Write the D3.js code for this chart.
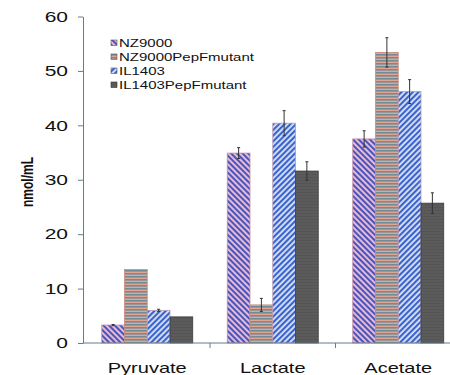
<!DOCTYPE html>
<html>
<head>
<meta charset="utf-8">
<script src="https://cdn.jsdelivr.net/npm/d3@7"></script>
<style>
  html, body { margin: 0; padding: 0; background: #fff; }
  text { font-family: "Liberation Sans", Arial, sans-serif; fill: #111; }
</style>
</head>
<body>
<svg id="chart" width="450" height="375"></svg>
<script>
// Metabolite concentrations (nmol/mL) per strain
const categories = ["Pyruvate", "Lactate", "Acetate"];
const seriesNames = ["NZ9000", "NZ9000PepFmutant", "IL1403", "IL1403PepFmutant"];
const nz9000       = [3.3, 34.9, 37.5];
const nz9000Mutant = [13.5, 7.0, 53.4];
const il1403       = [6.0, 40.4, 46.2];
const il1403Mutant = [4.8, 31.6, 25.7];
const nz9000Err       = [0.1, 1.0, 1.5];
const nz9000MutantErr = [0.0, 1.2, 2.7];
const il1403Err       = [0.2, 2.3, 2.2];
const il1403MutantErr = [0.0, 1.7, 1.9];
const yTicks = [0, 10, 20, 30, 40, 50, 60];

const values = [nz9000, nz9000Mutant, il1403, il1403Mutant];
const errors = [nz9000Err, nz9000MutantErr, il1403Err, il1403MutantErr];

const svg = d3.select("#chart");
const defs = svg.append("defs");

// Fill patterns for the four strains
function stripePattern(id, size, bg, fg, angle, stroke) {
  const p = defs.append("pattern").attr("id", id)
    .attr("patternUnits", "userSpaceOnUse")
    .attr("width", size).attr("height", size)
    .attr("patternTransform", `rotate(${angle})`);
  p.append("rect").attr("width", size).attr("height", size).attr("fill", bg);
  p.append("rect").attr("width", size).attr("height", stroke).attr("fill", fg);
}
stripePattern("pNZ", 4, "#e7b9d8", "#4756b8", 45, 2);
stripePattern("pNZm", 3, "#e3a592", "#6f8c98", 0, 1.6);
stripePattern("pIL", 4, "#dfe6f8", "#3a64cc", -45, 2.2);
defs.append("pattern").attr("id", "pILm")
  .attr("patternUnits", "userSpaceOnUse").attr("width", 3).attr("height", 3)
  .call(p => {
    p.append("rect").attr("width", 3).attr("height", 3).attr("fill", "#5b5b5b");
    p.append("rect").attr("width", 3).attr("height", 1).attr("fill", "#555");
  });
const fills = ["url(#pNZ)", "url(#pNZm)", "url(#pIL)", "url(#pILm)"];
const outlines = ["#c58aa8", "#c98a7c", "#b89ab8", "#3c3c3c"];

const axisColor = "#5f7f8f";
const sx = 1.5; // horizontal text stretch

const y = d3.scaleLinear().domain([0, 60]).range([343, 16.5]);
const x0 = d3.scaleBand().domain(categories).range([84.5, 461])
  .paddingInner(0.275).paddingOuter(0.1375);
const x1 = d3.scaleBand().domain(seriesNames).range([0, x0.bandwidth()]);

// Bars
seriesNames.forEach((name, si) => {
  const g = svg.append("g");
  g.selectAll("rect").data(categories).join("rect")
    .attr("x", c => x0(c) + x1(name))
    .attr("y", (c, i) => y(values[si][i]))
    .attr("width", x1.bandwidth())
    .attr("height", (c, i) => y(0) - y(values[si][i]))
    .attr("fill", fills[si])
    .attr("stroke", outlines[si])
    .attr("stroke-width", 0.8);
  // Error bars
  const eb = g.selectAll("g.err").data(categories).join("g").attr("class", "err");
  eb.each(function (c, i) {
    const e = errors[si][i];
    if (e <= 0) return;
    const cx = x0(c) + x1(name) + x1.bandwidth() / 2;
    const v = values[si][i];
    const s = d3.select(this);
    s.append("line").attr("x1", cx).attr("x2", cx)
      .attr("y1", y(v + e)).attr("y2", y(v - e))
      .attr("stroke", "#333").attr("stroke-width", 1);
    [v + e, v - e].forEach(t => s.append("line")
      .attr("x1", cx - 1.5).attr("x2", cx + 1.5)
      .attr("y1", y(t)).attr("y2", y(t))
      .attr("stroke", "#333").attr("stroke-width", 1));
  });
});

// Y axis
const yAxis = svg.append("g").attr("transform", "translate(83,0)")
  .call(d3.axisLeft(y).tickValues(yTicks).tickSize(5).tickSizeOuter(0).tickPadding(0));
yAxis.select(".domain").attr("stroke", axisColor);
yAxis.selectAll(".tick line").attr("stroke", axisColor);
yAxis.selectAll(".tick text")
  .attr("x", null).attr("dy", null)
  .attr("text-anchor", "end")
  .attr("dominant-baseline", "central")
  .style("font-size", "14px")
  .attr("transform", `translate(-15,0) scale(${sx},1)`);

// X axis baseline with separators between categories
svg.append("line").attr("x1", 83).attr("x2", 450)
  .attr("y1", y(0)).attr("y2", y(0)).attr("stroke", axisColor);
categories.slice(1).forEach(c => {
  const bx = x0(c) - x0.step() * x0.paddingInner() / 2;
  svg.append("line").attr("x1", bx).attr("x2", bx)
    .attr("y1", y(0)).attr("y2", y(0) + 5).attr("stroke", axisColor);
});
svg.selectAll("text.cat").data(categories).join("text").attr("class", "cat")
  .attr("text-anchor", "middle")
  .style("font-size", "14.5px")
  .attr("transform", c => `translate(${x0(c) + x0.bandwidth() / 2},373) scale(1.38,1)`)
  .text(c => c);

// Y axis title
svg.append("text")
  .attr("text-anchor", "middle")
  .style("font-size", "12px").style("font-weight", "bold")
  .attr("transform", "translate(33,182) scale(1.4,1) rotate(-90)")
  .text("nmol/mL");

// Legend
const legend = svg.append("g");
seriesNames.forEach((name, i) => {
  const ly = 43 + i * 14;
  legend.append("rect").attr("x", 111).attr("y", ly - 3).attr("width", 6).attr("height", 5.5)
    .attr("fill", fills[i]).attr("stroke", i === 3 ? "#333" : "#555").attr("stroke-width", 0.6);
  legend.append("text")
    .attr("dominant-baseline", "central")
    .style("font-size", "10px")
    .attr("transform", `translate(119,${ly}) scale(${sx},1)`)
    .text(name);
});
</script>
</body>
</html>
